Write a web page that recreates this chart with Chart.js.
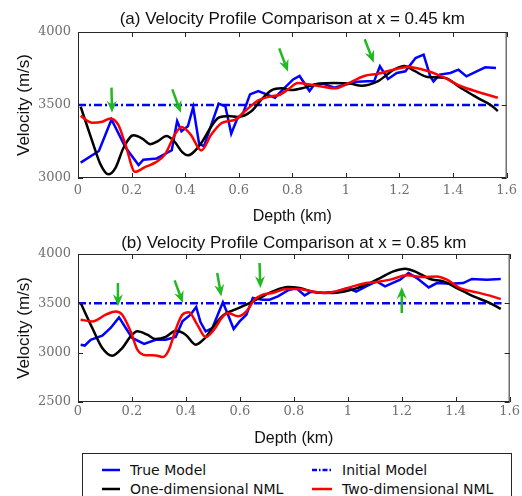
<!DOCTYPE html>
<html>
<head>
<meta charset="utf-8">
<script src="https://cdn.jsdelivr.net/npm/chart.js@4"></script>
<style>
  html, body { margin: 0; padding: 0; background: #fff; }
  body { width: 522px; height: 496px; position: relative; overflow: hidden; }
  .panel { position: absolute; left: 0; width: 522px; height: 228px; }
  #legend { position: absolute; left: 82px; top: 453px; width: 428px; height: 60px;
            border: 1px solid #262626; background: #fff;
            font: 14px "DejaVu Sans", sans-serif; color: #111; }
  .item { position: absolute; height: 18px; display: flex; align-items: center; white-space: nowrap; }
  .item svg { margin-right: 10px; }
</style>
</head>
<body>
<div class="panel" style="top:0"><canvas id="chartA"></canvas></div>
<div class="panel" style="top:222px"><canvas id="chartB"></canvas></div>
<div id="legend"></div>

<script>
// depth (km), velocity (m/s) pairs
const depthTicks = [0, 0.2, 0.4, 0.6, 0.8, 1, 1.2, 1.4, 1.6];
const initialDepth = [0, 1.57];
const initialVel = 3500;

// (a) x = 0.45 km
const trueA = [[0.01,3105],[0.078,3185],[0.125,3401],[0.177,3210],[0.226,3089],[0.244,3125],[0.294,3134],[0.35,3190],[0.37,3390],[0.386,3320],[0.41,3354],[0.43,3486],[0.452,3235],[0.47,3217],[0.50,3377],[0.525,3510],[0.55,3491],[0.572,3304],[0.593,3401],[0.617,3447],[0.642,3573],[0.673,3596],[0.704,3573],[0.735,3550],[0.772,3619],[0.803,3675],[0.827,3699],[0.864,3596],[0.882,3640],[0.914,3646],[0.957,3619],[1.0,3640],[1.043,3660],[1.08,3662],[1.105,3662],[1.127,3765],[1.157,3678],[1.19,3719],[1.222,3731],[1.26,3822],[1.29,3845],[1.315,3696],[1.327,3662],[1.35,3708],[1.39,3719],[1.42,3742],[1.45,3696],[1.488,3731],[1.52,3758],[1.56,3753]];
const oneDimA = [[0.01,3488],[0.053,3253],[0.084,3093],[0.113,3025],[0.14,3070],[0.17,3207],[0.207,3292],[0.24,3270],[0.27,3232],[0.30,3255],[0.33,3288],[0.36,3250],[0.39,3175],[0.41,3155],[0.43,3175],[0.46,3240],[0.50,3360],[0.525,3413],[0.562,3425],[0.597,3418],[0.648,3459],[0.685,3538],[0.722,3600],[0.76,3614],[0.796,3602],[0.846,3619],[0.895,3645],[0.957,3650],[1.019,3645],[1.058,3632],[1.12,3664],[1.181,3744],[1.219,3767],[1.256,3733],[1.305,3692],[1.367,3687],[1.428,3618],[1.49,3550],[1.54,3500],[1.567,3459]];
const twoDimA = [[0.01,3425],[0.053,3379],[0.09,3385],[0.121,3408],[0.15,3365],[0.177,3230],[0.213,3042],[0.25,3075],[0.288,3105],[0.325,3162],[0.362,3299],[0.387,3349],[0.42,3299],[0.46,3189],[0.498,3299],[0.535,3375],[0.562,3390],[0.587,3400],[0.624,3459],[0.673,3532],[0.722,3560],[0.753,3570],[0.784,3607],[0.821,3650],[0.864,3640],[0.92,3623],[0.957,3614],[1.006,3646],[1.068,3699],[1.12,3714],[1.181,3744],[1.231,3760],[1.305,3733],[1.367,3687],[1.428,3630],[1.49,3591],[1.567,3550]];
// arrows: tail depth, tail vel, tip depth, tip vel
const arrowsA = [[0.125,3619,0.127,3447],[0.352,3607,0.384,3447],[0.751,3888,0.784,3728],[1.07,3950,1.104,3790]];

// (b) x = 0.85 km
const trueB = [[0.01,3081],[0.025,3072],[0.047,3131],[0.09,3172],[0.121,3250],[0.152,3357],[0.177,3250],[0.201,3149],[0.245,3088],[0.288,3131],[0.325,3131],[0.362,3159],[0.387,3317],[0.417,3385],[0.438,3463],[0.454,3310],[0.473,3216],[0.498,3250],[0.537,3510],[0.556,3385],[0.577,3240],[0.599,3317],[0.624,3385],[0.648,3554],[0.685,3537],[0.71,3537],[0.741,3570],[0.778,3631],[0.809,3655],[0.84,3580],[0.864,3618],[0.907,3605],[0.957,3618],[1.0,3655],[1.031,3618],[1.068,3672],[1.107,3722],[1.138,3672],[1.194,3740],[1.225,3807],[1.256,3756],[1.3,3661],[1.33,3705],[1.38,3698],[1.428,3705],[1.46,3747],[1.515,3740],[1.567,3747]];
const oneDimB = [[0.01,3503],[0.053,3250],[0.09,3047],[0.127,2969],[0.164,3047],[0.195,3165],[0.22,3216],[0.257,3182],[0.288,3138],[0.325,3159],[0.362,3222],[0.399,3182],[0.436,3081],[0.467,3138],[0.51,3294],[0.541,3385],[0.574,3428],[0.624,3486],[0.673,3554],[0.722,3621],[0.778,3665],[0.821,3655],[0.883,3611],[0.944,3605],[1.006,3631],[1.068,3689],[1.12,3756],[1.169,3824],[1.213,3851],[1.256,3814],[1.305,3747],[1.355,3723],[1.404,3655],[1.466,3570],[1.527,3503],[1.567,3443]];
const twoDimB = [[0.01,3334],[0.053,3317],[0.103,3385],[0.14,3418],[0.164,3385],[0.195,3216],[0.22,3030],[0.25,2975],[0.288,2972],[0.315,2956],[0.337,3030],[0.362,3233],[0.387,3385],[0.411,3409],[0.442,3284],[0.473,3159],[0.504,3233],[0.535,3360],[0.556,3402],[0.593,3368],[0.624,3418],[0.654,3537],[0.685,3588],[0.722,3605],[0.772,3645],[0.815,3645],[0.87,3621],[0.92,3605],[0.969,3631],[1.019,3672],[1.068,3706],[1.107,3716],[1.157,3740],[1.219,3784],[1.28,3767],[1.33,3773],[1.367,3740],[1.416,3655],[1.478,3611],[1.527,3578],[1.567,3544]];
const arrowsB = [[0.148,3706,0.148,3470],[0.358,3733,0.389,3503],[0.516,3807,0.531,3570],[0.673,3909,0.676,3655],[1.2,3402,1.2,3666]];

const seriesNames = ['True Model', 'Initial Model', 'One-dimensional NML', 'Two-dimensional NML'];
const seriesColors = ['#0000ff', '#0000ff', '#000000', '#ff0000'];
const arrowColor = '#22b822';
const axisColor = '#262626';

const pts = arr => arr.map(([x, y]) => ({ x, y }));

// frame, inward tick marks, green arrows and the panel title
const boxPlugin = {
  id: 'box',
  afterDatasetsDraw(chart, args, opts) {
    const { ctx, chartArea: a, scales: { x, y } } = chart;
    ctx.save();
    (opts.arrows || []).forEach(([d0, v0, d1, v1]) => {
      const x0 = x.getPixelForValue(d0), y0 = y.getPixelForValue(v0);
      const x1 = x.getPixelForValue(d1), y1 = y.getPixelForValue(v1);
      const ang = Math.atan2(y1 - y0, x1 - x0);
      const c = Math.cos(ang), s = Math.sin(ang);
      const head = 12, half = 5, notch = 8;
      ctx.strokeStyle = arrowColor;
      ctx.fillStyle = arrowColor;
      ctx.lineWidth = 2.5;
      ctx.beginPath();
      ctx.moveTo(x0, y0);
      ctx.lineTo(x1 - notch * c, y1 - notch * s);
      ctx.stroke();
      ctx.beginPath();
      ctx.moveTo(x1, y1);
      ctx.lineTo(x1 - head * c + half * s, y1 - head * s - half * c);
      ctx.lineTo(x1 - notch * c, y1 - notch * s);
      ctx.lineTo(x1 - head * c - half * s, y1 - head * s + half * c);
      ctx.closePath();
      ctx.fill();
    });
    ctx.strokeStyle = axisColor;
    ctx.lineWidth = 1;
    ctx.strokeRect(a.left + 0.5, a.top + 0.5, a.width - 1, a.height - 1);
    const tl = 5;
    ctx.beginPath();
    x.ticks.forEach(t => {
      const px = Math.round(x.getPixelForValue(t.value)) + 0.5;
      ctx.moveTo(px, a.top); ctx.lineTo(px, a.top + tl);
      ctx.moveTo(px, a.bottom); ctx.lineTo(px, a.bottom - tl);
    });
    y.ticks.forEach(t => {
      const py = Math.round(y.getPixelForValue(t.value)) + 0.5;
      ctx.moveTo(a.left, py); ctx.lineTo(a.left + tl, py);
      ctx.moveTo(a.right, py); ctx.lineTo(a.right - tl, py);
    });
    ctx.stroke();

    ctx.fillStyle = '#111';
    ctx.font = '17px "Liberation Sans", Arial, sans-serif';
    ctx.textAlign = 'center';
    ctx.textBaseline = 'middle';
    ctx.fillText(opts.title, (a.left + a.right) / 2, opts.titleY);
    ctx.restore();
  }
};

function makeChart(id, cfg) {
  const datasets = [
    { label: seriesNames[0], data: pts(cfg.truth), borderColor: seriesColors[0], borderWidth: 2.5, tension: 0, order: 4 },
    { label: seriesNames[1], data: initialDepth.map(d => ({ x: d, y: initialVel })), borderColor: seriesColors[1],
      borderWidth: 2.5, borderDash: [8, 3, 2, 3], order: 3 },
    { label: seriesNames[2], data: pts(cfg.oneDim), borderColor: seriesColors[2], borderWidth: 2.5,
      cubicInterpolationMode: 'monotone', order: 2 },
    { label: seriesNames[3], data: pts(cfg.twoDim), borderColor: seriesColors[3], borderWidth: 2.5,
      cubicInterpolationMode: 'monotone', order: 1 }
  ];
  datasets.forEach(ds => { ds.pointRadius = 0; ds.fill = false; });

  return new Chart(document.getElementById(id), {
    type: 'line',
    data: { datasets },
    plugins: [boxPlugin],
    options: {
      responsive: true,
      maintainAspectRatio: false,
      animation: false,
      events: [],
      layout: { padding: { left: 0, right: 12, top: cfg.plotTop, bottom: 0 } },
      plugins: {
        legend: { display: false },
        tooltip: { enabled: false },
        title: { display: false },
        box: { arrows: cfg.arrows, title: cfg.title, titleY: cfg.titleY }
      },
      scales: {
        x: {
          type: 'linear',
          min: 0, max: 1.6,
          afterBuildTicks: s => { s.ticks = depthTicks.map(v => ({ value: v })); },
          afterFit: s => { s.height = cfg.xHeight; },
          grid: { display: false, drawTicks: false },
          border: { display: false },
          ticks: {
            padding: cfg.xTickPad,
            maxRotation: 0,
            autoSkip: false,
            color: '#707070',
            font: { family: '"DejaVu Serif", serif', size: 13 },
            callback: v => String(+(+v).toFixed(1))
          },
          title: {
            display: true,
            text: 'Depth (km)',
            color: '#111',
            font: { family: '"Liberation Sans", Arial, sans-serif', size: 16, lineHeight: '20px' },
            padding: { top: 0, bottom: 1 }
          }
        },
        y: {
          min: cfg.yMin, max: 4000,
          ticks: {
            stepSize: 500,
            padding: 7,
            color: '#707070',
            font: { family: '"DejaVu Serif", serif', size: 13 },
            callback: v => String(v)
          },
          afterFit: s => { s.width = 78; },
          grid: { display: false, drawTicks: false },
          border: { display: false },
          title: {
            display: true,
            text: 'Velocity (m/s)',
            color: '#111',
            font: { family: '"Liberation Sans", Arial, sans-serif', size: 17, lineHeight: '20px' },
            padding: { top: 14, bottom: 0 }
          }
        }
      }
    }
  });
}

makeChart('chartA', {
  title: '(a) Velocity Profile Comparison at x = 0.45 km',
  truth: trueA, oneDim: oneDimA, twoDim: twoDimA, arrows: arrowsA,
  yMin: 3000, plotTop: 32, titleY: 19, xHeight: 50, xTickPad: 5
});

makeChart('chartB', {
  title: '(b) Velocity Profile Comparison at x = 0.85 km',
  truth: trueB, oneDim: oneDimB, twoDim: twoDimB, arrows: arrowsB,
  yMin: 2500, plotTop: 32, titleY: 21, xHeight: 48, xTickPad: 2
});

// legend box below both panels
(function buildLegend() {
  const box = document.getElementById('legend');
  const spots = [[19, 7], [229, 7], [19, 26], [229, 26]];
  seriesNames.forEach((name, i) => {
    const item = document.createElement('div');
    item.className = 'item';
    item.style.left = spots[i][0] + 'px';
    item.style.top = spots[i][1] + 'px';
    const dash = i === 1 ? ' stroke-dasharray="5 2 1.5 2"' : '';
    const w = i === 1 || i === 3 ? 20 : 18;
    item.innerHTML = `<svg width="${w}" height="4"><line x1="0" y1="2" x2="${w}" y2="2" stroke="${seriesColors[i]}" stroke-width="2.5"${dash}/></svg><span>${name}</span>`;
    box.appendChild(item);
  });
})();
</script>
</body>
</html>
